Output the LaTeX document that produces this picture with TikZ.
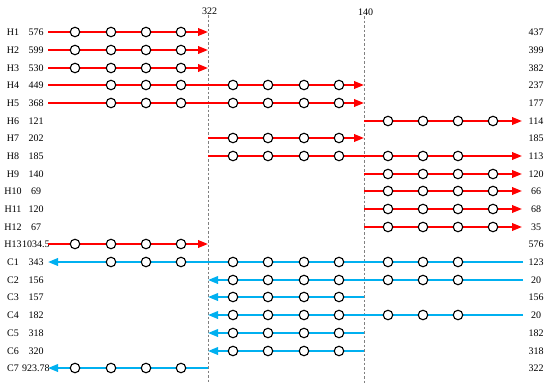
\documentclass[tikz,border=0pt]{standalone}
\usepackage{fontspec}
\setmainfont{Liberation Serif}
\usetikzlibrary{arrows.meta}
\definecolor{hred}{RGB}{255,0,0}
\definecolor{cblue}{RGB}{0,176,240}
\begin{document}
\begin{tikzpicture}[x=1pt,y=-1pt,
  harr/.style={hred,line width=2pt,-{Triangle[length=10pt,width=7.5pt]}},
  carr/.style={cblue,line width=2pt,-{Triangle[length=10pt,width=7.5pt]}},
  pt/.style={circle,draw=black,fill=white,line width=1.1pt,inner sep=0pt,minimum size=9.5pt},
  lbl/.style={font=\fontsize{10}{12}\selectfont,inner sep=0pt,anchor=center},
  gridline/.style={gray,line width=0.5pt,dash pattern=on 2.5pt off 2pt}]
\useasboundingbox (0,0) rectangle (550,388);
% dashed reference lines
\node[lbl] (t322) at (209.5,11) {322};
\node[lbl] (t140) at (365.5,12) {140};
\coordinate (g1t) at (208,15);
\coordinate (g1b) at (208,383);
\coordinate (g2t) at (364,16);
\coordinate (g2b) at (364,383);
\draw[gridline] (g1t) -- (g1b);
\draw[gridline] (g2t) -- (g2b);
% rows
\foreach \i/\nm/\ln/\rn/\xa/\xb/\cs/\sty in {
  1/H1/576/437/48/208/{75,111,146,181}/harr,
  2/H2/599/399/48/208/{75,111,146,181}/harr,
  3/H3/530/382/48/208/{75,111,146,181}/harr,
  4/H4/449/237/48/364/{111,146,181,233,268,304,339}/harr,
  5/H5/368/177/48/364/{111,146,181,233,268,304,339}/harr,
  6/H6/121/114/364/522/{388,423,458,493}/harr,
  7/H7/202/185/208/364/{233,268,304,339}/harr,
  8/H8/185/113/208/522/{233,268,304,339,388,423,458}/harr,
  9/H9/140/120/364/522/{388,423,458,493}/harr,
  10/H10/69/66/364/522/{388,423,458,493}/harr,
  11/H11/120/68/364/522/{388,423,458,493}/harr,
  12/H12/67/35/364/522/{388,423,458,493}/harr,
  13/H13/1034.5/576/48/208/{75,111,146,181}/harr,
  14/C1/343/123/523/48/{111,146,181,233,268,304,339,388,423,458}/carr,
  15/C2/156/20/523/208/{233,268,304,339,388,423,458}/carr,
  16/C3/157/156/364/208/{233,268,304,339}/carr,
  17/C4/182/20/523/208/{233,268,304,339,388,423,458}/carr,
  18/C5/318/182/364/208/{233,268,304,339}/carr,
  19/C6/320/318/364/208/{233,268,304,339}/carr,
  20/C7/923.78/322/208/48/{75,111,146,181}/carr}{
  \pgfmathsetmacro{\yy}{round(32.3+17.68*(\i-1))}
  \node[lbl] (nm-\i) at (13,\yy) {\nm};
  \node[lbl] (ln-\i) at (36,\yy) {\ln};
  \node[lbl] (rn-\i) at (536,\yy) {\rn};
  \coordinate (s-\i) at (\xa,\yy);
  \coordinate (e-\i) at (\xb,\yy);
  \draw[\sty] (s-\i) -- (e-\i);
  \foreach \c in \cs {
    \node[pt] (p-\i-\c) at (\c,\yy) {};
  }
}
\end{tikzpicture}
\end{document}
